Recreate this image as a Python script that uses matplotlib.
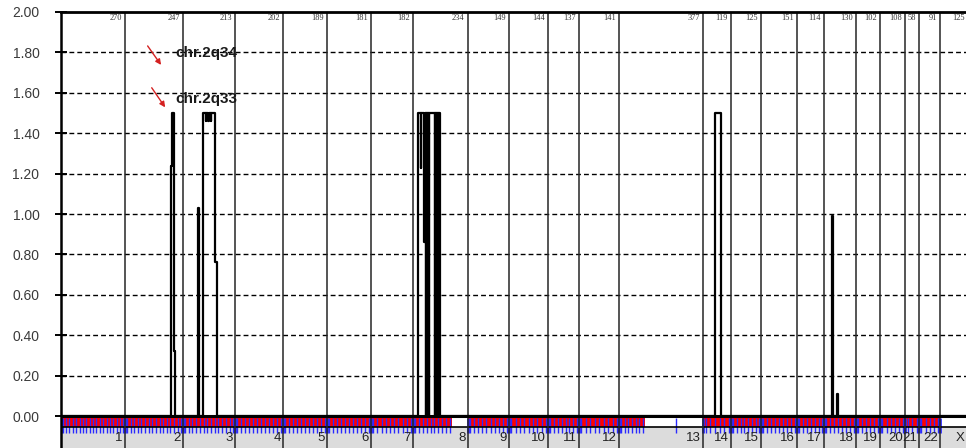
import matplotlib
matplotlib.use("Agg")
import matplotlib.pyplot as plt
from matplotlib.patches import Rectangle

# ---------------- data ----------------
chrom_names = ["1", "2", "3", "4", "5", "6", "7", "8", "9", "10", "11", "12",
               "13", "14", "15", "16", "17", "18", "19", "20", "21", "22", "X"]
# map length of each chromosome (clone-index units)
chrom_sizes = [267, 242, 217, 200, 183, 183, 175, 229, 171, 163, 129, 167,
               350, 117, 125, 150, 113, 133, 100, 104, 58, 88, 125]
# clone counts printed at the top of each chromosome
clone_counts = ["270", "247", "213", "202", "189", "181", "182", "234", "149", "144",
                "137", "141", "377", "119", "125", "151", "114", "130", "102", "108",
                "58", "91", "125"]

# ratio profile (step profile: value holds from this position to the next)
profile_pos = [0, 458, 461, 472, 474,
               569, 573,
               590, 604, 605, 614, 615, 624, 625, 640, 648,
               1489, 1498, 1500, 1514, 1516, 1520, 1522, 1524, 1526, 1528, 1530,
               1532, 1534, 1537, 1558, 1560, 1562, 1564, 1566, 1568, 1570, 1572,
               1574, 1576, 1579,
               2725, 2749,
               3213, 3217,
               3235, 3238, 3771]
profile_val = [0.00, 1.24, 1.50, 0.32, 0.00,
               1.03, 0.00,
               1.50, 1.46, 1.50, 1.46, 1.50, 1.46, 1.50, 0.76, 0.00,
               1.50, 1.23, 1.50, 0.86, 1.50, 0.00, 1.50, 0.00, 1.50, 0.00, 1.50,
               0.00, 1.50, 1.50, 0.00, 1.50, 0.00, 1.50, 0.00, 1.50, 0.00, 1.50,
               0.00, 1.50, 0.00,
               1.50, 0.00,
               0.99, 0.00,
               0.11, 0.00, 0.00]

# clone coverage (red band) segments
covered_start = [0, 1696, 2675]
covered_end = [1629, 2433, 3664]
# number of clone markers drawn per chromosome (within covered part)
marker_counts = [19, 16, 14, 12, 11, 11, 10, 10, 10, 9, 8, 9,
                 7, 6, 8, 9, 7, 8, 6, 6, 3, 5, 0]
extra_markers = [2562]

annot_text = ["chr.2q34", "chr.2q33"]
annot_text_xy = [(477, 1.795), (477, 1.568)]
annot_arrow_tail = [(361, 1.832), (378, 1.625)]
annot_arrow_head = [(417, 1.738), (434, 1.528)]

y_ticks = [0.0, 0.2, 0.4, 0.6, 0.8, 1.0, 1.2, 1.4, 1.6, 1.8, 2.0]

# ---------------- figure ----------------
W, H = 966, 448
fig = plt.figure(figsize=(W / 100, H / 100), dpi=100)
ax = fig.add_axes([61 / W, 0, 905 / W, 436 / H])
xmax = 3771
ybot = -0.1584
ax.set_xlim(0, xmax)
ax.set_ylim(ybot, 2.0)

starts = []
acc = 0
for s in chrom_sizes:
    starts.append(acc)
    acc += s
ends = [st + s for st, s in zip(starts, chrom_sizes)]

band_top = 0.0
band_bot = -0.056

# dashed grid
for yv in y_ticks[1:-1]:
    ax.axhline(yv, color="black", lw=1.0, ls=(0, (3.5, 2.2)), zorder=1)

# gray label row
for st, en in zip(starts, ends):
    ax.add_patch(Rectangle((st, ybot), en - st, band_bot - ybot,
                           facecolor="#dcdcdc", edgecolor="none", zorder=1))

# red coverage band
for cs, ce in zip(covered_start, covered_end):
    ax.add_patch(Rectangle((cs, band_bot), ce - cs, band_top - band_bot,
                           facecolor="#ff0000", edgecolor="none", zorder=2))

# clone markers (blue ticks)
for st, en, n in zip(starts, ends, marker_counts):
    lo, hi = st, en
    for cs, ce in zip(covered_start, covered_end):
        if cs < en and ce > st:
            lo, hi = max(st, cs), min(en, ce)
            break
    if n > 0:
        step = (hi - lo) / n
        xs = [lo + step * (i + 0.5) for i in range(n)]
        ax.vlines(xs, -0.083, -0.012, color="#2a2aff", lw=1.0, zorder=3)
    ax.vlines([st], -0.083, -0.012, color="#2a2aff", lw=2.0, zorder=3)
ax.vlines(extra_markers, -0.083, -0.012, color="#2a2aff", lw=1.0, zorder=3)

# band outlines
ax.axhline(band_bot, color="black", lw=1.2, zorder=4)

# chromosome boundary lines
for st in starts[1:]:
    ax.axvline(st, color="#262626", lw=1.1, zorder=4)

# profile
ax.plot(profile_pos, profile_val, drawstyle="steps-post", color="black",
        lw=1.6, zorder=6, solid_joinstyle="round")

ax.axhline(0.0, color="black", lw=2.2, zorder=7)

# top count labels
for en, c in zip(ends, clone_counts):
    ax.text(min(en - 14, xmax - 6), 1.972, c, ha="right", va="center",
            fontsize=6, family="Liberation Serif", color="#333333", zorder=8)

# chromosome labels
for en, nm in zip(ends, chrom_names):
    ax.text(min(en - 9, xmax - 8), -0.109, nm, ha="right", va="center",
            fontsize=9.5, family="Liberation Sans", color="#222222", zorder=8)

# annotations
for txt, (tx, ty), tail, head in zip(annot_text, annot_text_xy,
                                     annot_arrow_tail, annot_arrow_head):
    ax.annotate("", xy=head, xytext=tail,
                arrowprops=dict(arrowstyle="-|>", color="#d42020", lw=1.0,
                                mutation_scale=8, shrinkA=0, shrinkB=0),
                zorder=8)
    ax.text(tx, ty, txt, ha="left", va="center", fontsize=11,
            fontweight="bold", family="Liberation Sans", color="#1a1a1a",
            zorder=8)

# axes styling
ax.set_yticks(y_ticks)
ax.set_yticklabels([f"{v:.2f}" for v in y_ticks], family="Liberation Sans",
                   fontsize=10, color="#3a3a3a")
ax.tick_params(axis="y", direction="inout", length=9, width=1.4, pad=11,
               color="black")
ax.set_xticks([])
ax.spines["right"].set_visible(False)
ax.spines["bottom"].set_visible(False)
ax.spines["left"].set_linewidth(1.8)
ax.spines["top"].set_linewidth(2.0)
ax.spines["left"].set_zorder(9)
ax.spines["top"].set_zorder(9)

fig.savefig("out.png", dpi=100)
